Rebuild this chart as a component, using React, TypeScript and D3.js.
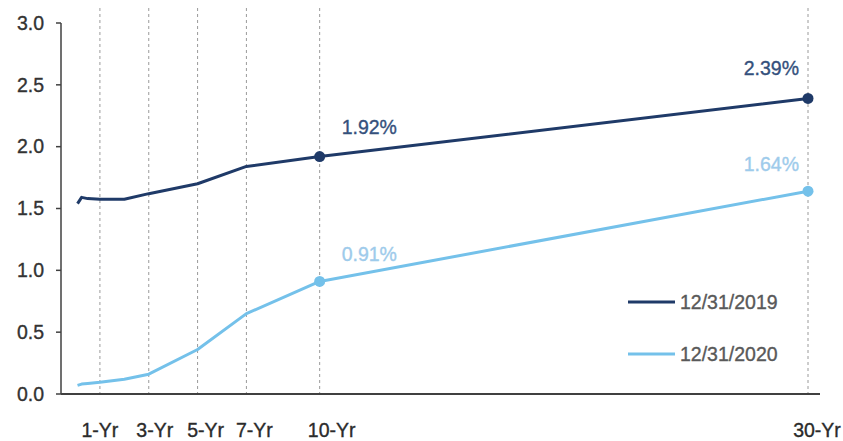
import React from "react";
import * as d3 from "d3";

// ---- data ----
const maturities2019 = [1 / 12, 0.25, 0.5, 1, 2, 3, 5, 7, 10, 30];
const yields2019 = [1.54, 1.59, 1.58, 1.575, 1.575, 1.62, 1.7, 1.84, 1.92, 2.39];
const maturities2020 = [1 / 12, 0.25, 0.5, 1, 2, 3, 5, 7, 10, 30];
const yields2020 = [0.07, 0.08, 0.085, 0.095, 0.12, 0.16, 0.36, 0.65, 0.91, 1.64];
const tickYears = [1, 3, 5, 7, 10, 30];
const tickLabels = ["1-Yr", "3-Yr", "5-Yr", "7-Yr", "10-Yr", "30-Yr"];
const yTicks = [0, 0.5, 1.0, 1.5, 2.0, 2.5, 3.0];
const labelYears = [10, 30];
const seriesNames = ["12/31/2019", "12/31/2020"];

const W = 843;
const H = 441;
const FONT = "'Liberation Sans', Arial, sans-serif";
const DARK = "#1f3a68";
const LIGHT = "#74c1ea";
const DARK_TXT = "#34507c";
const LIGHT_TXT = "#9ecbeb";
const labelShift = [0, 6, 8, 8, 12, 9];

export default function App() {
  const x = d3.scaleLinear().domain([0, 30]).range([75.5, 808]);
  const y = d3.scaleLinear().domain([0, 3]).range([394, 23]);
  const axisLeft = 61;
  const axisRight = 820;

  const line = d3
    .line<[number, number]>()
    .x((d) => x(d[0]))
    .y((d) => y(d[1]))
    .curve(d3.curveLinear);

  const s2019: [number, number][] = maturities2019.map((m, i) => [m, yields2019[i]]);
  const s2020: [number, number][] = maturities2020.map((m, i) => [m, yields2020[i]]);

  const valAt = (ms: number[], ys: number[], yr: number) => ys[ms.indexOf(yr)];
  const textStroke = { stroke: "currentColor", strokeWidth: 0.35 } as const;

  return (
    <svg
      width={W}
      height={H}
      style={{ position: "absolute", left: 0, top: 0, background: "#fff" }}
      fontFamily={FONT}
    >
      {/* vertical dashed gridlines */}
      {tickYears.map((t) => (
        <line
          key={"g" + t}
          x1={x(t)}
          x2={x(t)}
          y1={8}
          y2={y(0)}
          stroke="#9a9a9a"
          strokeWidth={1}
          strokeDasharray="3,3"
        />
      ))}

      {/* y axis */}
      <line x1={axisLeft} x2={axisLeft} y1={y(3)} y2={y(0)} stroke="#404040" strokeWidth={1.5} />
      {yTicks.map((t) => (
        <g key={"y" + t}>
          <line x1={axisLeft - 5} x2={axisLeft} y1={y(t)} y2={y(t)} stroke="#404040" strokeWidth={1.5} />
          <text
            x={44}
            y={y(t)}
            dy="0.35em"
            textAnchor="end"
            fontSize={19.5}
            fill="#333"
            color="#333"
            {...textStroke}
          >
            {t.toFixed(1)}
          </text>
        </g>
      ))}

      {/* x axis */}
      <line x1={axisLeft} x2={axisRight} y1={y(0)} y2={y(0)} stroke="#404040" strokeWidth={2} />
      {tickYears.map((t, i) => (
        <text
          key={"xl" + t}
          x={x(t) + labelShift[i]}
          y={437}
          textAnchor="middle"
          fontSize={19.5}
          fill="#2b2b2b"
          color="#2b2b2b"
          {...textStroke}
        >
          {tickLabels[i]}
        </text>
      ))}

      {/* lines */}
      <path d={line(s2019) || ""} fill="none" stroke={DARK} strokeWidth={3} strokeLinejoin="round" />
      <path d={line(s2020) || ""} fill="none" stroke={LIGHT} strokeWidth={3} strokeLinejoin="round" />

      {/* markers & labels */}
      {labelYears.map((yr) => {
        const v1 = valAt(maturities2019, yields2019, yr);
        const v2 = valAt(maturities2020, yields2020, yr);
        const isLast = yr === 30;
        return (
          <g key={"m" + yr}>
            <circle cx={x(yr)} cy={y(v1)} r={5.5} fill={DARK} />
            <circle cx={x(yr)} cy={y(v2)} r={5.5} fill={LIGHT} />
            <text
              x={isLast ? x(yr) - 9 : x(yr) + 22}
              y={y(v1) - 23}
              textAnchor={isLast ? "end" : "start"}
              fontSize={19.5}
              fill={DARK_TXT}
              color={DARK_TXT}
              {...textStroke}
            >
              {v1.toFixed(2)}%
            </text>
            <text
              x={isLast ? x(yr) - 9 : x(yr) + 22}
              y={y(v2) - 20}
              textAnchor={isLast ? "end" : "start"}
              fontSize={19.5}
              fill={LIGHT_TXT}
              color={LIGHT_TXT}
              {...textStroke}
            >
              {v2.toFixed(2)}%
            </text>
          </g>
        );
      })}

      {/* legend */}
      {seriesNames.map((n, i) => (
        <g key={n} transform={`translate(628, ${302 + i * 52})`}>
          <line x1={0} x2={47} y1={0} y2={0} stroke={i === 0 ? DARK : LIGHT} strokeWidth={3} />
          <text x={52} y={0} dy="0.35em" fontSize={19.5} fill="#595959" color="#595959" {...textStroke}>
            {n}
          </text>
        </g>
      ))}
    </svg>
  );
}
